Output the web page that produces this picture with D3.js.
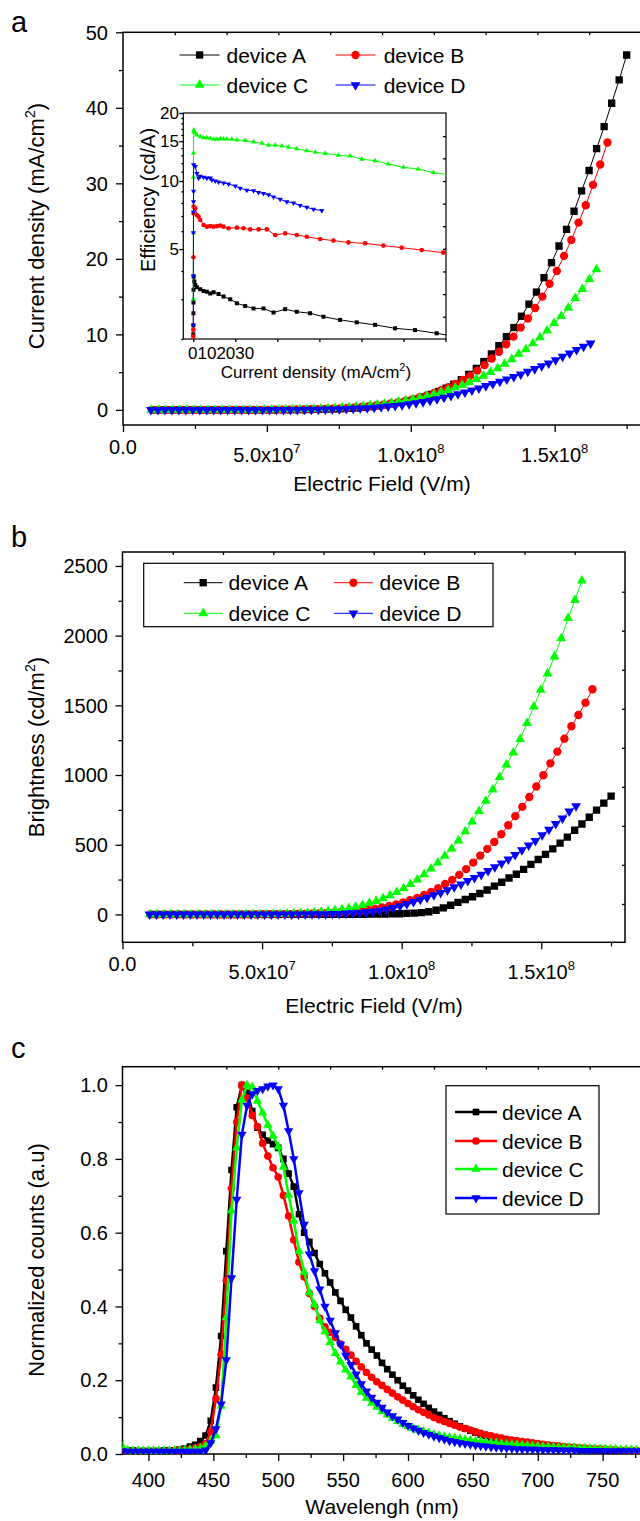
<!DOCTYPE html>
<html>
<head>
<meta charset="UTF-8">
<title>Devices A-D: current density, brightness, EL spectra</title>
<script src="https://d3js.org/d3.v7.min.js"></script>
<style>
    body { margin: 0; background: #fff; }
    text { font-family: "Liberation Sans", Arial, Helvetica, sans-serif; fill: #000; }
    .frame { fill: none; stroke: #000; stroke-width: 1.5; }
</style>
</head>
<body>
<script>
    // ---- data ----
    var names = ["device A", "device B", "device C", "device D"];
    var colors = ["#000000", "#ff0000", "#00ff00", "#0000ff"];
    var thickness = [191.4, 199.0, 203.6, 206.2]; // nm, field = bias / thickness

    var bias = [2, 2.5, 3, 3.5, 4, 4.5, 5, 5.5, 6, 6.5,
        7, 7.5, 8, 8.5, 9, 9.5, 10, 10.5, 11, 11.5,
        12, 12.5, 13, 13.5, 14, 14.5, 15, 15.5, 16, 16.5,
        17, 17.5, 18, 18.5, 19, 19.5, 20, 20.5, 21, 21.5,
        22, 22.5, 23, 23.5, 24, 24.5, 25, 25.5, 26, 26.5,
        27, 27.5, 28, 28.5, 29, 29.5, 30, 30.5, 31, 31.5,
        32, 32.5, 33, 33.5];

    // current density (mA/cm2)
    var currentA = [0, 0, 0, 0, 0, 0.01, 0.01, 0.01, 0.01, 0.01,
        0.01, 0.01, 0.01, 0.01, 0.01, 0.01, 0.01, 0.02, 0.02, 0.03,
        0.04, 0.05, 0.07, 0.09, 0.12, 0.16, 0.20, 0.26, 0.33, 0.42,
        0.53, 0.65, 0.80, 0.98, 1.19, 1.43, 1.72, 2.05, 2.43, 2.88,
        3.40, 4.00, 4.70, 5.50, 6.40, 7.40, 8.50, 9.70, 10.9, 12.4,
        14.0, 15.6, 17.5, 19.5, 21.7, 23.9, 26.3, 29.0, 31.7, 34.6,
        37.5, 40.6, 43.7, 47.0];
    var currentB = [0, 0, 0, 0, 0, 0.01, 0.01, 0.01, 0.01, 0.01,
        0.01, 0.01, 0.01, 0.01, 0.01, 0.01, 0.01, 0.02, 0.03, 0.04,
        0.05, 0.06, 0.08, 0.10, 0.13, 0.17, 0.21, 0.26, 0.32, 0.39,
        0.48, 0.58, 0.70, 0.84, 1.00, 1.18, 1.40, 1.65, 1.93, 2.25,
        2.60, 3.00, 3.45, 3.97, 4.50, 5.20, 5.95, 6.80, 7.70, 8.70,
        9.70, 10.9, 12.1, 13.5, 15.0, 16.7, 18.4, 20.4, 22.5, 24.8,
        27.1, 29.8, 32.5, 35.4];
    var currentC = [0, 0, 0, 0, 0, 0.01, 0.01, 0.01, 0.01, 0.01,
        0.01, 0.01, 0.01, 0.01, 0.01, 0.01, 0.02, 0.03, 0.04, 0.05,
        0.06, 0.08, 0.10, 0.12, 0.15, 0.19, 0.23, 0.28, 0.34, 0.41,
        0.49, 0.58, 0.68, 0.80, 0.93, 1.08, 1.24, 1.42, 1.62, 1.84,
        2.08, 2.34, 2.63, 2.94, 3.28, 3.65, 4.06, 4.50, 5.00, 5.50,
        6.10, 6.70, 7.40, 8.00, 8.80, 9.60, 10.5, 11.5, 12.4, 13.5,
        14.8, 16.0, 17.3, 18.6];
    var currentD = [0, 0, 0, 0, 0, 0, 0.01, 0.01, 0.01, 0.01,
        0.01, 0.01, 0.01, 0.01, 0.01, 0.01, 0.01, 0.01, 0.01, 0.01,
        0.02, 0.02, 0.03, 0.04, 0.05, 0.06, 0.08, 0.10, 0.13, 0.16,
        0.20, 0.25, 0.31, 0.38, 0.46, 0.55, 0.65, 0.77, 0.90, 1.05,
        1.22, 1.42, 1.63, 1.85, 2.08, 2.34, 2.58, 2.87, 3.17, 3.44,
        3.74, 4.06, 4.37, 4.70, 5.07, 5.42, 5.80, 6.17, 6.60, 7.05,
        7.50, 7.94, 8.37, 8.80];

    // brightness (cd/m2)
    var brightA = [0, 0, 0, 0, 0, 0, 0, 0, 0, 0,
        0, 0, 0, 0, 0, 0, 0, 0, 0, 0,
        0, 0, 0, 0, 0, 0, 0, 1, 1, 1,
        2, 2, 3, 4, 5, 7, 9, 13, 19, 30,
        47, 66, 86, 107, 127, 150, 175, 203, 231, 261,
        288, 323, 359, 394, 431, 470, 511, 555, 604, 649,
        697, 748, 798, 849];
    var brightB = [0, 0, 0, 0, 0, 0, 0, 0, 0, 0,
        0, 0, 0, 0, 0, 0, 1, 1, 1, 2,
        2, 3, 4, 5, 7, 9, 11, 14, 18, 23,
        28, 34, 41, 50, 60, 72, 86, 102, 119, 139,
        162, 188, 218, 248, 284, 325, 372, 422, 470, 520,
        575, 640, 705, 772, 842, 918, 998, 1084, 1168, 1260,
        1350, 1431, 1519, 1615];
    var brightC = [0, 0, 0, 0, 0, 0, 0, 0, 0, 0,
        0, 0, 0, 0, 1, 1, 2, 2, 3, 4,
        5, 7, 9, 11, 14, 18, 23, 29, 36, 44,
        54, 66, 80, 96, 115, 137, 160, 187, 217, 250,
        287, 328, 372, 420, 472, 530, 595, 665, 740, 815,
        895, 985, 1075, 1160, 1258, 1372, 1490, 1610, 1728, 1850,
        1980, 2125, 2255, 2394];
    var brightD = [0, 0, 0, 0, 0, 0, 0, 0, 0, 0,
        0, 0, 0, 0, 0, 0, 0, 0, 0, 0,
        0, 1, 1, 1, 2, 2, 3, 4, 5, 7,
        9, 12, 16, 21, 28, 36, 47, 60, 74, 91,
        106, 120, 138, 155, 174, 196, 216, 241, 262, 285,
        312, 340, 367, 396, 428, 462, 496, 528, 569, 608,
        650, 690, 739, 777];

    // inset: [current density (mA/cm2), efficiency (cd/A)]
    var effA = [[0.01, 2.1], [0.02, 2.3], [0.03, 2.6], [0.04, 2.9], [0.05, 3.3], [0.07, 3.78],
        [0.2, 3.59], [0.38, 3.47], [0.69, 3.39], [1.33, 3.32], [1.96, 3.26], [2.59, 3.24],
        [3.23, 3.18], [3.86, 3.22], [4.81, 3.16], [5.76, 3.08], [7.03, 3.0], [8.3, 2.88],
        [9.88, 2.8], [11.47, 2.73], [13.37, 2.73], [15.27, 2.62], [17.49, 2.71], [19.7, 2.64],
        [22.24, 2.6], [24.77, 2.51], [27.94, 2.43], [31.11, 2.37], [34.6, 2.31], [38.4, 2.23],
        [42.2, 2.19], [46.32, 2.12], [48.8, 2.07]];
    var effB = [[0.01, 2.05], [0.02, 2.2], [0.03, 4.6], [0.05, 7.2], [0.06, 7.7], [0.38, 7.57],
        [0.69, 7.07], [1.01, 6.95], [1.33, 6.72], [1.96, 6.39], [2.59, 6.28], [3.23, 6.32],
        [3.86, 6.28], [4.5, 6.32], [5.13, 6.35], [5.76, 6.28], [6.71, 6.18], [8.3, 6.22],
        [9.56, 6.18], [10.83, 6.11], [12.42, 6.11], [14.0, 6.11], [15.6, 5.77], [17.5, 5.87],
        [19.7, 5.77], [21.6, 5.67], [24.14, 5.54], [26.68, 5.45], [29.53, 5.35], [32.7, 5.3],
        [36.18, 5.18], [39.67, 5.07], [43.47, 4.95], [47.59, 4.82]];
    var effC = [[0.01, 3.0], [0.02, 5.9], [0.03, 10.4], [0.05, 13.3], [0.08, 16.8], [0.15, 16.5],
        [0.38, 16.3], [0.69, 16.0], [1.33, 15.7], [1.96, 15.55], [2.59, 15.55], [3.23, 15.45],
        [3.86, 15.3], [4.5, 15.3], [5.13, 15.4], [5.76, 15.35], [6.4, 15.35], [7.35, 15.3],
        [8.3, 15.2], [9.88, 15.1], [11.47, 14.9], [13.05, 14.7], [14.32, 14.4], [15.6, 14.4],
        [16.85, 14.3], [18.12, 14.1], [19.7, 13.9], [21.6, 13.6], [23.2, 13.4], [25.1, 13.25],
        [27.6, 13.0], [29.85, 12.9], [32.06, 12.5], [34.6, 12.3], [37.1, 11.9], [40.0, 11.5],
        [42.8, 11.3], [45.7, 10.9], [48.8, 10.65]];
    var effD = [[0.01, 2.3], [0.02, 3.8], [0.03, 5.9], [0.04, 7.3], [0.05, 8.1], [0.055, 9.0],
        [0.06, 11.8], [0.38, 11.6], [0.69, 10.8], [1.01, 10.3], [1.33, 10.5], [1.96, 10.4],
        [2.59, 10.3], [3.23, 10.3], [3.54, 10.1], [4.18, 10.0], [4.81, 9.9], [5.76, 9.8],
        [6.71, 9.7], [7.98, 9.5], [8.93, 9.3], [10.2, 9.1], [11.47, 9.06], [12.42, 8.9],
        [13.37, 8.8], [14.32, 8.7], [15.27, 8.5], [16.54, 8.3], [17.8, 8.1], [19.07, 8.0],
        [20.34, 7.8], [21.6, 7.65], [22.87, 7.5], [24.46, 7.4]];

    // EL spectra, normalized
    var wavelength = [380, 384, 388, 392, 396, 400, 404, 408, 412, 416,
        420, 424, 428, 432, 436, 440, 444, 448, 452, 456,
        460, 464, 468, 472, 476, 480, 484, 488, 492, 496,
        500, 504, 508, 512, 516, 520, 524, 528, 532, 536,
        540, 544, 548, 552, 556, 560, 564, 568, 572, 576,
        580, 584, 588, 592, 596, 600, 604, 608, 612, 616,
        620, 624, 628, 632, 636, 640, 644, 648, 652, 656,
        660, 664, 668, 672, 676, 680, 684, 688, 692, 696,
        700, 704, 708, 712, 716, 720, 724, 728, 732, 736,
        740, 744, 748, 752, 756, 760, 764, 768, 772, 776,
        780];
    var specA = [0.010, 0.009, 0.009, 0.008, 0.008, 0.008, 0.008, 0.008, 0.009, 0.009,
        0.010, 0.012, 0.015, 0.020, 0.025, 0.035, 0.050, 0.090, 0.180, 0.320,
        0.550, 0.770, 0.940, 1.000, 0.980, 0.930, 0.885, 0.865, 0.850, 0.840,
        0.830, 0.800, 0.760, 0.725, 0.650, 0.600, 0.575, 0.545, 0.515, 0.490,
        0.465, 0.438, 0.415, 0.391, 0.370, 0.346, 0.322, 0.300, 0.283, 0.267,
        0.247, 0.230, 0.215, 0.200, 0.185, 0.172, 0.159, 0.147, 0.136, 0.125,
        0.115, 0.106, 0.097, 0.089, 0.082, 0.075, 0.069, 0.063, 0.058, 0.053,
        0.049, 0.045, 0.041, 0.038, 0.035, 0.032, 0.030, 0.028, 0.026, 0.024,
        0.022, 0.021, 0.019, 0.018, 0.017, 0.016, 0.015, 0.014, 0.013, 0.012,
        0.012, 0.011, 0.011, 0.010, 0.010, 0.009, 0.009, 0.008, 0.008, 0.008,
        0.007];
    var specB = [0.008, 0.007, 0.007, 0.007, 0.007, 0.007, 0.007, 0.007, 0.008, 0.008,
        0.009, 0.010, 0.011, 0.013, 0.016, 0.020, 0.028, 0.060, 0.150, 0.270,
        0.470, 0.720, 0.900, 1.000, 0.965, 0.918, 0.888, 0.842, 0.808, 0.776,
        0.751, 0.701, 0.645, 0.580, 0.520, 0.480, 0.435, 0.400, 0.368, 0.345,
        0.330, 0.316, 0.298, 0.284, 0.268, 0.251, 0.236, 0.221, 0.208, 0.196,
        0.186, 0.175, 0.165, 0.155, 0.146, 0.137, 0.128, 0.120, 0.113, 0.106,
        0.099, 0.093, 0.088, 0.083, 0.078, 0.073, 0.069, 0.065, 0.060, 0.056,
        0.052, 0.049, 0.046, 0.043, 0.040, 0.038, 0.036, 0.034, 0.032, 0.030,
        0.028, 0.026, 0.025, 0.023, 0.022, 0.020, 0.019, 0.018, 0.017, 0.016,
        0.015, 0.014, 0.014, 0.013, 0.012, 0.011, 0.010, 0.010, 0.009, 0.009,
        0.008];
    var specC = [0.020, 0.010, 0.009, 0.009, 0.009, 0.009, 0.009, 0.009, 0.009, 0.009,
        0.010, 0.010, 0.011, 0.012, 0.013, 0.015, 0.022, 0.035, 0.050, 0.130,
        0.370, 0.660, 0.830, 0.960, 1.000, 0.995, 0.957, 0.925, 0.892, 0.863,
        0.833, 0.778, 0.702, 0.632, 0.550, 0.493, 0.438, 0.405, 0.362, 0.332,
        0.303, 0.273, 0.250, 0.228, 0.209, 0.186, 0.167, 0.152, 0.138, 0.127,
        0.116, 0.106, 0.097, 0.089, 0.081, 0.075, 0.070, 0.065, 0.061, 0.057,
        0.053, 0.050, 0.047, 0.045, 0.043, 0.041, 0.039, 0.037, 0.035, 0.034,
        0.032, 0.031, 0.030, 0.028, 0.027, 0.026, 0.025, 0.024, 0.023, 0.022,
        0.021, 0.020, 0.020, 0.019, 0.018, 0.018, 0.017, 0.017, 0.016, 0.016,
        0.015, 0.015, 0.014, 0.014, 0.013, 0.013, 0.012, 0.012, 0.012, 0.011,
        0.011];
    var specD = [0.008, 0.007, 0.007, 0.007, 0.007, 0.007, 0.007, 0.007, 0.007, 0.007,
        0.007, 0.007, 0.007, 0.007, 0.007, 0.007, 0.010, 0.030, 0.068, 0.135,
        0.255, 0.477, 0.690, 0.866, 0.945, 0.976, 0.985, 0.990, 0.997, 1.000,
        0.990, 0.945, 0.876, 0.800, 0.708, 0.622, 0.542, 0.496, 0.447, 0.400,
        0.362, 0.328, 0.297, 0.267, 0.242, 0.216, 0.190, 0.170, 0.153, 0.140,
        0.126, 0.113, 0.103, 0.094, 0.085, 0.077, 0.070, 0.064, 0.058, 0.053,
        0.048, 0.044, 0.040, 0.036, 0.033, 0.030, 0.028, 0.026, 0.024, 0.022,
        0.021, 0.019, 0.018, 0.017, 0.016, 0.015, 0.014, 0.013, 0.013, 0.012,
        0.012, 0.011, 0.011, 0.011, 0.010, 0.010, 0.010, 0.010, 0.009, 0.009,
        0.009, 0.009, 0.009, 0.008, 0.008, 0.008, 0.008, 0.008, 0.008, 0.008,
        0.008];

    // ticks and tick labels
    var fieldMajor = [0, 5e7, 1e8, 1.5e8];
    var fieldMinor = [2.5e7, 7.5e7, 1.25e8, 1.75e8];
    var fieldMant = ["0.0", "5.0x10", "1.0x10", "1.5x10"];
    var fieldExp = ["", "7", "8", "8"];
    var fieldTop = [1.8e7, 3.6e7, 5.4e7, 7.2e7, 9.0e7, 1.08e8, 1.26e8, 1.44e8, 1.62e8];
    var currentMajor = [0, 10, 20, 30, 40, 50];
    var currentMinor = [5, 15, 25, 35, 45];
    var brightMajor = [0, 500, 1000, 1500, 2000, 2500];
    var brightMinor = [250, 750, 1250, 1750, 2250];
    var brightRight = [75, 355, 635, 915, 1195, 1475, 1755, 2035, 2315];
    var countMajor = [0, 0.2, 0.4, 0.6, 0.8, 1.0];
    var countMinor = [0.1, 0.3, 0.5, 0.7, 0.9];
    var waveMajor = [400, 450, 500, 550, 600, 650, 700, 750];
    var waveMinor = [425, 475, 525, 575, 625, 675, 725, 775];
    var waveTop = [420, 460, 500, 540, 580, 620, 660, 700, 740];
    var effMajor = [5, 10, 15, 20];
    var effMinor = [2, 3, 4, 6, 7, 8, 9, 11, 12, 13, 14, 16, 17, 18, 19];
    var effRight = [2.51, 3.16, 3.98, 5.01, 6.31, 7.94, 10, 12.6, 15.8];
    var insetJTicks = [0, 8, 16, 24, 32, 40, 48];
    var insetJLabels = ["0", "10", "20", "30"];

    // ---- drawing ----
    var svg = d3.select("body").append("svg").attr("width", 640).attr("height", 1521);
    var defs = svg.append("defs");
    var shapes = [d3.symbolSquare, d3.symbolCircle, d3.symbolTriangle, d3.symbolTriangle];

    function clip(id, l, t, r, b) {
        defs.append("clipPath").attr("id", id).append("rect")
            .attr("x", l).attr("y", t).attr("width", r - l).attr("height", b - t);
        return "url(#" + id + ")";
    }
    function place(k, x, y) {
        return "translate(" + x + "," + y + ")" + (k === 3 ? " rotate(180)" : "");
    }
    function tickRow(axisFn, scale, vals, size, tr) {
        var g = svg.append("g").attr("transform", tr)
            .call(axisFn(scale).tickValues(vals).tickSize(size).tickSizeOuter(0).tickFormat(""));
        g.select(".domain").remove();
        g.selectAll(".tick text").remove();
        g.selectAll(".tick line").attr("stroke-width", 1.3);
    }
    function frame(p) {
        svg.append("rect").attr("class", "frame")
            .attr("x", p.l).attr("y", p.t).attr("width", p.r - p.l).attr("height", p.b - p.t);
    }
    function series(g, x, y, pts, k, area, lw) {
        g.append("path").datum(pts)
            .attr("fill", "none").attr("stroke", colors[k]).attr("stroke-width", lw)
            .attr("d", d3.line().x(function (d) { return x(d[0]); }).y(function (d) { return y(d[1]); }));
        g.selectAll(null).data(pts).join("path")
            .attr("d", d3.symbol().type(shapes[k]).size(area))
            .attr("transform", function (d) { return place(k, x(d[0]), y(d[1])); })
            .attr("fill", colors[k]);
    }
    function legendItem(k, x0, x1, y, tx, area, lw) {
        svg.append("line").attr("x1", x0).attr("x2", x1).attr("y1", y).attr("y2", y)
            .attr("stroke", colors[k]).attr("stroke-width", lw);
        svg.append("path").attr("d", d3.symbol().type(shapes[k]).size(area)())
            .attr("transform", place(k, (x0 + x1) / 2, y)).attr("fill", colors[k]);
        svg.append("text").attr("x", tx).attr("y", y + 7.5).attr("font-size", 21).text(names[k]);
    }
    function title(x, y, rotate, size, before, sup, after) {
        var t = svg.append("text").attr("text-anchor", "middle").attr("font-size", size)
            .attr("transform", "translate(" + x + "," + y + ")" + (rotate ? " rotate(-90)" : ""));
        t.append("tspan").text(before);
        if (sup) {
            t.append("tspan").attr("dy", -size * 0.4).attr("font-size", size * 0.65).text(sup);
            t.append("tspan").attr("dy", size * 0.4).text(after);
        }
    }
    function yLabels(y, vals, fmt, xr, size) {
        svg.append("g").selectAll("text").data(vals).join("text")
            .attr("x", xr).attr("y", function (d) { return y(d) + size * 0.36; })
            .attr("text-anchor", "end").attr("font-size", size).text(fmt);
    }
    function fieldLabels(x, axisY) {
        fieldMajor.forEach(function (v, i) {
            var t = svg.append("text").attr("x", x(v)).attr("text-anchor", "middle").attr("font-size", 20);
            if (!fieldExp[i]) {
                t.attr("y", axisY + 29).text(fieldMant[i]);
            } else {
                t.attr("y", axisY + 37);
                t.append("tspan").text(fieldMant[i]);
                t.append("tspan").attr("dy", -9).attr("font-size", 13).text(fieldExp[i]);
            }
        });
    }
    function fieldSeries(values, k) {
        return values.map(function (v, i) { return [bias[i] / thickness[k] * 1e9, v]; });
    }

    var current = [currentA, currentB, currentC, currentD];
    var bright = [brightA, brightB, brightC, brightD];
    var effs = [effA, effB, effC, effD];
    var specs = [specA, specB, specC, specD];
    var bigArea = [54, 55, 42, 42];

    // ---- panel a: current density ----
    var pa = {l: 123, r: 641, t: 32.3, b: 425};
    var xa = d3.scaleLinear().domain([0, 1.8e8]).range([pa.l, pa.r]);
    var ya = d3.scaleLinear().domain([-2, 50]).range([pa.b, pa.t]);
    frame(pa);
    tickRow(d3.axisBottom, xa, fieldMajor, 7, "translate(0," + pa.b + ")");
    tickRow(d3.axisBottom, xa, fieldMinor, 4, "translate(0," + pa.b + ")");
    tickRow(d3.axisTop, xa, fieldTop, -3, "translate(0," + pa.t + ")");
    tickRow(d3.axisLeft, ya, currentMajor, 7, "translate(" + pa.l + ",0)");
    tickRow(d3.axisLeft, ya, currentMinor, 4, "translate(" + pa.l + ",0)");
    var ga = svg.append("g").attr("clip-path", clip("clipA", pa.l, pa.t, pa.r, pa.b));
    current.forEach(function (vals, k) { series(ga, xa, ya, fieldSeries(vals, k), k, bigArea[k], 1); });
    yLabels(ya, currentMajor, d3.format("d"), 108, 20);
    fieldLabels(xa, pa.b);
    title(382, 491, false, 21, "Electric Field (V/m)");
    title(44, 226, true, 22, "Current density (mA/cm", "2", ")");
    svg.append("text").attr("x", 11).attr("y", 31.5).attr("font-size", 29).text("a");
    [0, 1, 2, 3].forEach(function (k) {
        var col = k % 2, row = Math.floor(k / 2);
        var x0 = col ? 335.5 : 179.6;
        legendItem(k, x0, x0 + 40, row ? 85 : 55, col ? 383.7 : 226.5, bigArea[k], 1);
    });

    // inset: efficiency vs current density (log y)
    var pi = {l: 183.3, r: 446, t: 113, b: 339};
    var xi = d3.scaleLinear().domain([-1.9, 48.1]).range([pi.l, pi.r]);
    var yi = d3.scaleLog().domain([2, 20]).range([pi.b, pi.t]);
    svg.append("rect").attr("x", pi.l).attr("y", pi.t).attr("width", pi.r - pi.l).attr("height", pi.b - pi.t)
        .attr("fill", "#fff").attr("stroke", "#000").attr("stroke-width", 1.2);
    tickRow(d3.axisBottom, xi, insetJTicks, 3, "translate(0," + pi.b + ")");
    tickRow(d3.axisLeft, yi, effMajor, 4, "translate(" + pi.l + ",0)");
    tickRow(d3.axisLeft, yi, effMinor, 2, "translate(" + pi.l + ",0)");
    tickRow(d3.axisRight, yi, effRight, -3, "translate(" + pi.r + ",0)");
    var gi = svg.append("g").attr("clip-path", clip("clipI", pi.l, pi.t, pi.r, pi.b));
    var smallArea = [16, 17, 12, 12];
    effs.forEach(function (pts, k) { series(gi, xi, yi, pts, k, smallArea[k], 1); });
    yLabels(yi, effMajor, d3.format("d"), 179, 17);
    var jl = svg.append("text").attr("x", 188).attr("y", 359).attr("font-size", 17);
    insetJLabels.forEach(function (s) { jl.append("tspan").text(s); });
    title(316, 378, false, 17, "Current density (mA/cm", "2", ")");
    title(155, 200, true, 20, "Efficiency (cd/A)");

    // ---- panel b: brightness ----
    var pb = {l: 122.5, r: 625, t: 552, b: 942.3};
    var xb = d3.scaleLinear().domain([0, 1.8e8]).range([pb.l, pb.r]);
    var yb = d3.scaleLinear().domain([-200, 2600]).range([pb.b, pb.t]);
    frame(pb);
    tickRow(d3.axisBottom, xb, fieldMajor, 7, "translate(0," + pb.b + ")");
    tickRow(d3.axisBottom, xb, fieldMinor, 4, "translate(0," + pb.b + ")");
    tickRow(d3.axisTop, xb, fieldTop, -3, "translate(0," + pb.t + ")");
    tickRow(d3.axisLeft, yb, brightMajor, 7, "translate(" + pb.l + ",0)");
    tickRow(d3.axisLeft, yb, brightMinor, 4, "translate(" + pb.l + ",0)");
    tickRow(d3.axisRight, yb, brightRight, -3, "translate(" + pb.r + ",0)");
    var gb = svg.append("g").attr("clip-path", clip("clipB", pb.l, pb.t, pb.r, pb.b));
    bright.forEach(function (vals, k) { series(gb, xb, yb, fieldSeries(vals, k), k, bigArea[k], 1); });
    yLabels(yb, brightMajor, d3.format("d"), 108, 20);
    fieldLabels(xb, pb.b);
    title(374, 1013, false, 21, "Electric Field (V/m)");
    title(44, 747, true, 22, "Brightness (cd/m", "2", ")");
    svg.append("text").attr("x", 11).attr("y", 546.5).attr("font-size", 29).text("b");
    svg.append("rect").attr("x", 143.7).attr("y", 563.3).attr("width", 349.3).attr("height", 63.4)
        .attr("fill", "#fff").attr("stroke", "#000").attr("stroke-width", 1.2);
    [0, 1, 2, 3].forEach(function (k) {
        var col = k % 2, row = Math.floor(k / 2);
        var x0 = col ? 333.9 : 183.7;
        legendItem(k, x0, x0 + 39, row ? 613.3 : 582.7, col ? 379.6 : 228.6, bigArea[k], 1);
    });

    // ---- panel c: EL spectra ----
    var pc = {l: 122.5, r: 641.6, t: 1066.7, b: 1454};
    var xc = d3.scaleLinear().domain([380, 780]).range([pc.l, pc.r]);
    var yc = d3.scaleLinear().domain([0, 1.05]).range([pc.b, pc.t]);
    frame(pc);
    tickRow(d3.axisBottom, xc, waveMajor, 7, "translate(0," + pc.b + ")");
    tickRow(d3.axisBottom, xc, waveMinor, 4, "translate(0," + pc.b + ")");
    tickRow(d3.axisTop, xc, waveTop, -3, "translate(0," + pc.t + ")");
    tickRow(d3.axisLeft, yc, countMajor, 7, "translate(" + pc.l + ",0)");
    tickRow(d3.axisLeft, yc, countMinor, 4, "translate(" + pc.l + ",0)");
    var gc = svg.append("g").attr("clip-path", clip("clipC", pc.l, pc.t, pc.r, pc.b));
    var specArea = [44, 46, 38, 38];
    specs.forEach(function (vals, k) {
        var pts = vals.map(function (v, i) { return [wavelength[i], v]; });
        series(gc, xc, yc, pts, k, specArea[k], 2.5);
    });
    yLabels(yc, countMajor, d3.format(".1f"), 108, 20);
    svg.append("g").selectAll("text").data(waveMajor).join("text")
        .attr("x", function (d) { return xc(d); }).attr("y", pc.b + 33)
        .attr("text-anchor", "middle").attr("font-size", 20).text(function (d) { return d; });
    title(382, 1514, false, 21, "Wavelengh (nm)");
    title(44, 1260, true, 22, "Normalized counts (a.u)");
    svg.append("text").attr("x", 11).attr("y", 1058).attr("font-size", 29).text("c");
    svg.append("rect").attr("x", 446).attr("y", 1085.7).attr("width", 153).attr("height", 128.3)
        .attr("fill", "#fff").attr("stroke", "#000").attr("stroke-width", 1.2);
    [1112, 1141, 1169, 1198].forEach(function (y, k) {
        legendItem(k, 455, 497, y, 502, specArea[k], 2.5);
    });
</script>
</body>
</html>
